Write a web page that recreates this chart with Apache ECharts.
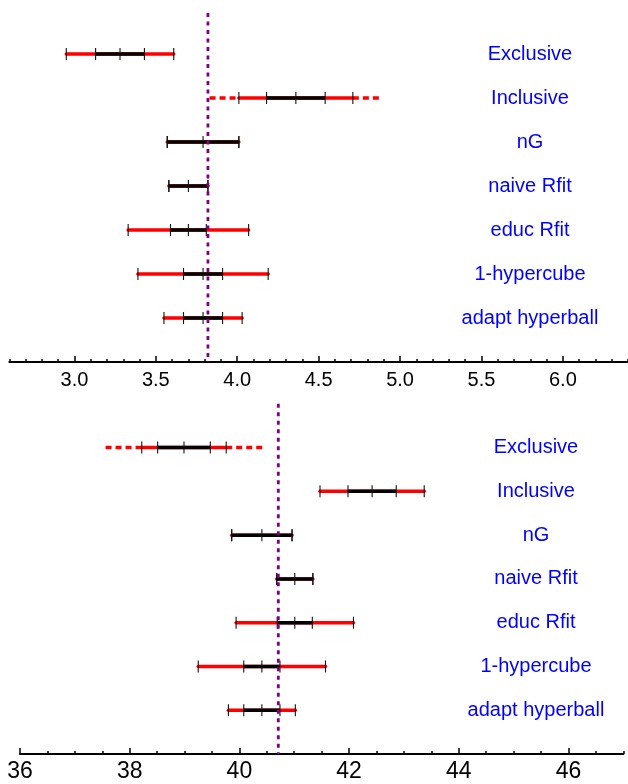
<!DOCTYPE html>
<html><head><meta charset="utf-8">
<script src="https://cdn.jsdelivr.net/npm/echarts@6/dist/echarts.min.js"></script>
<style>html,body{margin:0;padding:0;background:#fff}#c{width:628px;height:784px}</style>
</head><body><div id="c"></div>
<script>
// ---- data ----
const categories = ['Exclusive', 'Inclusive', 'nG', 'naive Rfit', 'educ Rfit', '1-hypercube', 'adapt hyperball'];

const topCenter   = [3.28, 4.36, 3.79, 3.70, 3.70, 3.79, 3.79];
const topInner    = [0.15, 0.18, 0.22, 0.12, 0.11, 0.12, 0.12];
const topOuter    = [0.33, 0.35, 0.22, 0.12, 0.37, 0.40, 0.24];
const topExtended = [0, 0.53, 0, 0, 0, 0, 0];
const topRef = 3.82;

const bottomCenter   = [38.99, 42.42, 40.41, 41.01, 41.01, 40.41, 40.41];
const bottomInner    = [0.48, 0.44, 0.55, 0.33, 0.32, 0.33, 0.33];
const bottomOuter    = [0.77, 0.95, 0.55, 0.33, 1.07, 1.16, 0.61];
const bottomExtended = [1.43, 0, 0, 0, 0, 0, 0];
const bottomRef = 40.71;

const topTickLabels    = [3.0, 3.5, 4.0, 4.5, 5.0, 5.5, 6.0];
const bottomTickLabels = [36, 38, 40, 42, 44, 46];

// ---- build ----
function rows(center, inner, outer, ext) {
  return categories.map((n, i) => [center[i], inner[i], outer[i], ext[i], i]);
}

function makeRender(labelX) {
  return function (params, api) {
    const c = api.value(0), inn = api.value(1), out = api.value(2), ext = api.value(3), row = api.value(4);
    const y = api.coord([c, row])[1];
    const X = v => api.coord([v, row])[0];
    const ch = [];
    if (ext > 0) {
      const ds = { stroke: '#ff0000', lineWidth: 3.5, lineDash: [6, 4] };
      ch.push({ type: 'line', shape: { x1: X(c - ext), y1: y, x2: X(c - out), y2: y }, style: ds });
      ch.push({ type: 'line', shape: { x1: X(c + out), y1: y, x2: X(c + ext), y2: y }, style: ds });
    }
    ch.push({ type: 'line', shape: { x1: X(c - out), y1: y, x2: X(c + out), y2: y },
      style: { stroke: '#ff0000', lineWidth: 3.5, lineCap: 'round' } });
    ch.push({ type: 'line', shape: { x1: X(c - inn), y1: y, x2: X(c + inn), y2: y },
      style: { stroke: '#000000', lineWidth: 3.5, lineCap: 'butt' } });
    [c - out, c - inn, c, c + inn, c + out].forEach(v => {
      const x = X(v);
      ch.push({ type: 'line', shape: { x1: x, y1: y - 6, x2: x, y2: y + 6 },
        style: { stroke: '#111', lineWidth: 1.1 } });
    });
    ch.push({ type: 'text', x: labelX, y: y,
      style: { text: categories[params.dataIndex], fill: '#0000ff', font: '20px "Liberation Sans", Arial, sans-serif',
        align: 'center', verticalAlign: 'middle' } });
    return { type: 'group', children: ch };
  };
}

function makeRefRender(yStart) {
  return function (params, api) {
    const v = api.value(0);
    const p1 = api.coord([v, yStart]);
    const p2 = api.coord([v, 7]);
    return { type: 'line', z2: 100,
      shape: { x1: p1[0], y1: p1[1], x2: p2[0], y2: p2[1] },
      style: { stroke: '#800080', lineWidth: 2.8, lineDash: [4, 4.5] } };
  };
}

const axisBase = { type: 'value', splitLine: { show: false }, position: 'bottom' };

const option = {
  animation: false,
  backgroundColor: '#fff',
  grid: [
    { left: 9.3, right: 0, top: 10, height: 352 },
    { left: 20, right: 4.7, top: 403.8, height: 350.2 }
  ],
  xAxis: [
    Object.assign({}, axisBase, { gridIndex: 0, min: 2.6, max: 6.4, interval: 0.1,
      axisLine: { onZero: false, lineStyle: { color: '#000', width: 2 } },
      axisTick: { inside: true, length: 3, lineStyle: { color: '#000', width: 1.5 } },
      axisLabel: { show: false } }),
    Object.assign({}, axisBase, { gridIndex: 0, min: 2.6, max: 6.4,
      axisLine: { show: false, onZero: false },
      axisTick: { inside: true, length: 6, customValues: topTickLabels, lineStyle: { color: '#000', width: 1.5 } },
      axisLabel: { customValues: topTickLabels, formatter: v => Number(v).toFixed(1), fontSize: 20, margin: 8,
        color: '#000', fontFamily: '"Liberation Sans", Arial, sans-serif' } }),
    Object.assign({}, axisBase, { gridIndex: 1, min: 36, max: 47, interval: 0.5,
      axisLine: { onZero: false, lineStyle: { color: '#000', width: 2 } },
      axisTick: { inside: true, length: 3, lineStyle: { color: '#000', width: 1.5 } },
      axisLabel: { show: false } }),
    Object.assign({}, axisBase, { gridIndex: 1, min: 36, max: 47,
      axisLine: { show: false, onZero: false },
      axisTick: { inside: true, length: 6, customValues: bottomTickLabels, lineStyle: { color: '#000', width: 1.5 } },
      axisLabel: { customValues: bottomTickLabels, formatter: v => String(v), fontSize: 23, margin: 6,
        color: '#000', fontFamily: '"Liberation Sans", Arial, sans-serif' } })
  ],
  yAxis: [
    { type: 'value', gridIndex: 0, min: -1, max: 7, inverse: true, show: false },
    { type: 'value', gridIndex: 1, min: -1, max: 7, inverse: true, show: false }
  ],
  series: [
    { type: 'custom', xAxisIndex: 0, yAxisIndex: 0, clip: false, z: 2,
      encode: { x: 0, y: 4 },
      data: rows(topCenter, topInner, topOuter, topExtended),
      renderItem: makeRender(530) },
    { type: 'custom', xAxisIndex: 2, yAxisIndex: 1, clip: false, z: 2,
      encode: { x: 0, y: 4 },
      data: rows(bottomCenter, bottomInner, bottomOuter, bottomExtended),
      renderItem: makeRender(536) },
    { type: 'custom', xAxisIndex: 0, yAxisIndex: 0, clip: false, z: 5, silent: true,
      encode: { x: 0 }, data: [[topRef]], renderItem: makeRefRender(-0.93) },
    { type: 'custom', xAxisIndex: 2, yAxisIndex: 1, clip: false, z: 5, silent: true,
      encode: { x: 0 }, data: [[bottomRef]], renderItem: makeRefRender(-1) }
  ]
};

const chart = echarts.init(document.getElementById('c'), null, { renderer: 'canvas' });
chart.setOption(option);
</script>
</body></html>
